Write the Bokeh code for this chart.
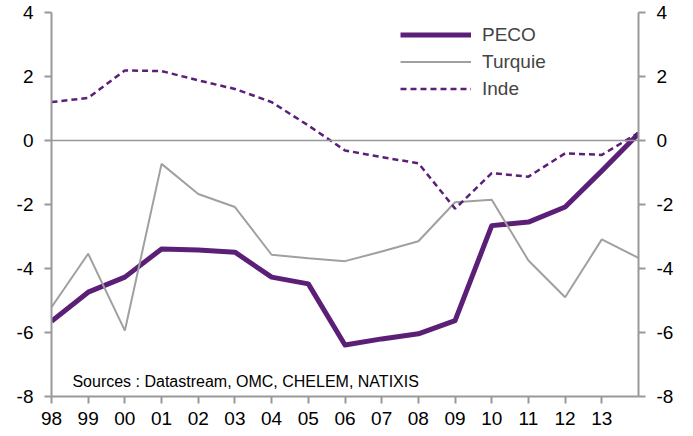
from bokeh.plotting import figure
from bokeh.models import (LinearAxis, FixedTicker, Range1d, Span, Label,
                          Legend, LegendItem)
from bokeh.embed import file_html
from bokeh.resources import INLINE

years = list(range(1998, 2015))
tick_years = list(range(1998, 2014))
tick_labels = ["98", "99", "00", "01", "02", "03", "04", "05", "06", "07",
               "08", "09", "10", "11", "12", "13"]

peco = [-5.65, -4.74, -4.27, -3.39, -3.42, -3.49, -4.27, -4.48, -6.39, -6.2,
        -6.04, -5.63, -2.66, -2.55, -2.08, -0.95, 0.21]
turquie = [-5.21, -3.54, -5.94, -0.73, -1.67, -2.08, -3.57, -3.68, -3.77, -3.47,
           -3.15, -1.93, -1.85, -3.75, -4.9, -3.09, -3.67]
inde = [1.2, 1.33, 2.19, 2.17, 1.88, 1.61, 1.2, 0.47, -0.31, -0.52,
        -0.71, -2.13, -1.02, -1.13, -0.4, -0.45, 0.24]
y_ticks = [-8, -6, -4, -2, 0, 2, 4]
y_labels = ["-8", "-6", "-4", "-2", "0", "2", "4"]
source_text = "Sources : Datastream, OMC, CHELEM, NATIXIS"

PURPLE = "#5B1F78"
GREY = "#A0A0A0"
AXIS = "#999999"
FONT = "Liberation Sans"

p = figure(width=685, height=432, output_backend="svg", toolbar_location=None,
           x_range=Range1d(1998, 2014), y_range=Range1d(-8, 4),
           min_border_left=51, min_border_right=47, min_border_top=12,
           min_border_bottom=36)
p.outline_line_color = None
p.xgrid.visible = False
p.ygrid.visible = False
p.background_fill_color = "white"

zero = Span(location=0, dimension="width", line_color=AXIS, line_width=1.5)
p.add_layout(zero)

r_peco = p.line(years, peco, line_color=PURPLE, line_width=5, line_join="round")
r_tur = p.line(years, turquie, line_color=GREY, line_width=2)
r_inde = p.line(years, inde, line_color=PURPLE, line_width=2.5, line_dash="6 4")

def style_axis(ax):
    ax.axis_line_color = AXIS
    ax.axis_line_width = 2
    ax.major_tick_line_color = AXIS
    ax.major_tick_line_width = 2
    ax.major_tick_out = 7
    ax.major_tick_in = 0
    ax.minor_tick_line_color = None
    ax.major_label_text_font = FONT
    ax.major_label_text_font_size = "19px"
    ax.major_label_text_color = "black"

y_over = {t: l for t, l in zip(y_ticks, y_labels)}

p.yaxis.ticker = FixedTicker(ticks=y_ticks)
p.yaxis.major_label_overrides = y_over
style_axis(p.yaxis[0])
p.yaxis.major_label_standoff = 11

right = LinearAxis(ticker=FixedTicker(ticks=y_ticks))
right.major_label_overrides = y_over
style_axis(right)
right.major_label_standoff = 11
p.add_layout(right, "right")

p.xaxis.ticker = FixedTicker(ticks=tick_years)
p.xaxis.major_label_overrides = {y: l for y, l in zip(tick_years, tick_labels)}
style_axis(p.xaxis[0])
p.xaxis.major_label_standoff = 8

legend = Legend(items=[LegendItem(label="PECO", renderers=[r_peco]),
                       LegendItem(label="Turquie", renderers=[r_tur]),
                       LegendItem(label="Inde", renderers=[r_inde])],
                location=(349, 294), padding=0, margin=0, spacing=0,
                glyph_width=71, glyph_height=27, label_height=27,
                label_standoff=11, label_text_font=FONT,
                label_text_font_size="19px", border_line_color=None,
                background_fill_alpha=0)
p.add_layout(legend)

p.add_layout(Label(x=1998.57, y=-7.52, text=source_text, text_font=FONT,
                   text_font_size="16px", text_color="black",
                   text_baseline="alphabetic"))

open("out.html", "w").write(file_html(p, INLINE))
